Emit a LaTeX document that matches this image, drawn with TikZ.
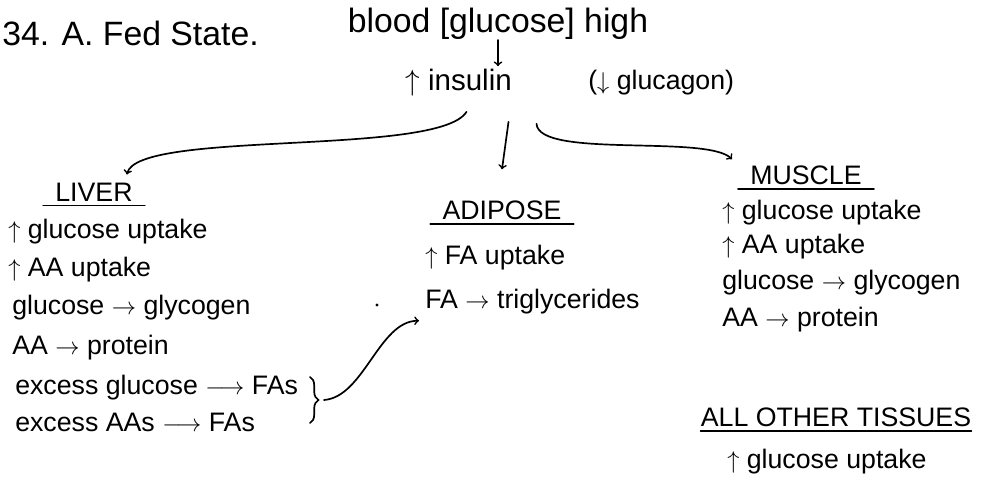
\documentclass[tikz,border=0pt]{standalone}
\usepackage{fontspec}
\setmainfont{Liberation Sans}
\usetikzlibrary{calc,decorations.pathreplacing}

\tikzset{
  big/.style={inner sep=0pt,font=\fontsize{24}{27}\selectfont},
  mid/.style={anchor=west,inner sep=0pt,font=\fontsize{21}{24}\selectfont},
  txt/.style={anchor=west,inner sep=0pt,font=\fontsize{19}{21}\selectfont},
  head/.style={inner xsep=0.3cm,inner ysep=0.1cm,font=\fontsize{19}{21}\selectfont},
  hand/.style={line width=1.2pt,line cap=round},
}

\begin{document}
\begin{tikzpicture}[x=0.025cm,y=-0.025cm]
\useasboundingbox (0,0) rectangle (996,487);

\node[big,anchor=west] (title) at (2,33) {34. A. Fed State.};
\node[big] (blood) at (498,24) {blood [glucose] high};
\node[mid] (ins) at (405,83) {$\uparrow$ insulin};
\node[txt] (glc) at (588,83) {($\downarrow$ glucagon)};

\node[head] (liver) at (94,192) {LIVER};
\node[head] (adip) at (502,210) {ADIPOSE};
\node[head] (musc) at (806,175) {MUSCLE};
\node[head,inner xsep=0pt] (other) at (836,417) {ALL OTHER TISSUES};

\draw[hand] (liver.south west) -- (liver.south east);
\draw[hand] (adip.south west) -- (adip.south east);
\draw[hand] (musc.south west) -- (musc.south east);
\draw[hand] (other.south west) -- (other.south east);

\node[txt] (liv1) at (8,232) {$\uparrow$ glucose uptake};
\node[txt] (liv2) at (8,270) {$\uparrow$ AA uptake};
\node[txt] (liv3) at (12,308) {glucose $\rightarrow$ glycogen};
\node[txt] (liv4) at (12,348) {AA $\rightarrow$ protein};
\node[txt] (liv5) at (15,388) {excess glucose $\longrightarrow$ FAs};
\node[txt] (liv6) at (15,422) {excess AAs $\longrightarrow$ FAs};

\node[txt] (adi1) at (425,258) {$\uparrow$ FA uptake};
\node[txt] (adi2) at (425,302) {FA $\rightarrow$ triglycerides};

\node[txt] (mus1) at (722,213) {$\uparrow$ glucose uptake};
\node[txt] (mus2) at (722,247) {$\uparrow$ AA uptake};
\node[txt] (mus3) at (722,283) {glucose $\rightarrow$ glycogen};
\node[txt] (mus4) at (722,320) {AA $\rightarrow$ protein};

\node[txt] (oth1) at (727,462) {$\uparrow$ glucose uptake};

\coordinate (bt) at (310,377);
\coordinate (bb) at (310,423);
\coordinate (bm) at (324,400);

\draw[hand,->] (blood.south) -- ($(blood.south |- ins.north)+(0,-3)$);
\draw[hand,->] ($(ins.south)+(8,15)$) .. controls +(-28,45) and +(10,-45) .. ($(liver.north east)+(-18,-4)$);
\draw[hand,->] ($(ins.south)+(50,25)$) -- ($(adip.north)+(0,-27)$);
\draw[hand,->] ($(ins.south)+(78,27)$) .. controls +(2,35) and +(-25,-25) .. ($(musc.north west)+(-6,-2)$);

\draw[hand,decorate,decoration={brace,amplitude=6pt}] (bt) -- (bb);
\draw[hand,->] (bm) .. controls +(40,-3) and +(-40,0) .. ($(adi2.south west)+(-6,6)$);
\fill (377,305) circle (1.2pt);

\end{tikzpicture}
\end{document}
